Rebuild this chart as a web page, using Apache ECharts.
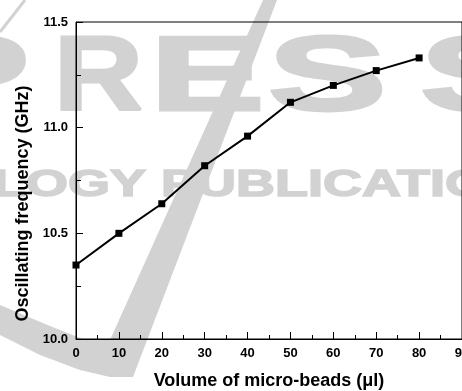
<!DOCTYPE html>
<html>
<head>
<meta charset="utf-8">
<script src="https://cdn.jsdelivr.net/npm/echarts@6/dist/echarts.min.js"></script>
<style>
  html, body { margin: 0; padding: 0; background: #fff; }
  #chart { width: 462px; height: 391px; }
</style>
</head>
<body>
<div id="chart"></div>
<script>
// volume of micro-beads (ul) vs. oscillating frequency (GHz)
const volumes = [0, 10, 20, 30, 40, 50, 60, 70, 80];
const frequencies = [10.35, 10.50, 10.64, 10.82, 10.96, 11.12, 11.20, 11.27, 11.33];
const yTicks = [10.0, 10.5, 11.0, 11.5];

const chart = echarts.init(document.getElementById('chart'));

const axisFont = { color: '#000', fontFamily: 'Liberation Sans', fontWeight: 'bold' };
const wm = '#d2d2d2';
const bigFont = 'bold 106px "Liberation Sans"';

// one watermark letter, stretched sideways
const letter = (ch, x, s) => ({
  type: 'text', z: -9, silent: true, x: x, y: 28, scaleX: s,
  style: { text: ch, fill: wm, stroke: wm, lineWidth: 3, font: bigFont, verticalAlign: 'top' },
});

chart.setOption({
  backgroundColor: '#fff',
  animation: false,
  // faint publisher watermark behind the plot
  graphic: [
    {
      type: 'polygon', z: -10, silent: true,
      shape: {
        points: [[0, 335], [40, 355], [80, 370], [110, 377], [133, 377], [277, 0], [263, 0],
                 [110, 340], [85, 340], [50, 326], [0, 305]],
      },
      style: { fill: wm },
    },
    {
      type: 'line', z: -10, silent: true,
      shape: { x1: 0, y1: 32, x2: 25, y2: 0 },
      style: { stroke: wm, lineWidth: 3 },
    },
    letter('P', -77, 1.5),
    letter('R', 54, 1.16),
    letter('E', 150, 1.62),
    letter('S', 268, 1.68),
    letter('S', 420, 1.68),
    {
      type: 'text', z: -9, silent: true, x: -7, y: 168, scaleX: 1.5,
      style: {
        text: 'LOGY PUBLICATIO', fill: wm, stroke: wm, lineWidth: 1.5,
        font: 'bold 36px "Liberation Sans"', verticalAlign: 'top',
      },
    },
  ],
  grid: {
    left: 76, top: 22, right: 0, bottom: 52,
    outerBoundsMode: 'none',
    show: true, borderColor: '#000', borderWidth: 1,
  },
  xAxis: {
    type: 'value',
    min: 0, max: 90, interval: 10,
    name: 'Volume of micro-beads (μl)',
    nameLocation: 'middle', nameGap: 33,
    nameTextStyle: { ...axisFont, fontSize: 18 },
    axisLine: { lineStyle: { color: '#000', width: 1 } },
    axisTick: { inside: true, length: 7, lineStyle: { color: '#000' } },
    minorTick: { show: true, splitNumber: 2, length: 4, lineStyle: { color: '#000' } },
    axisLabel: { ...axisFont, fontSize: 13, margin: 8, showMaxLabel: true },
    splitLine: { show: false },
  },
  yAxis: {
    type: 'value',
    min: 10, max: 11.5, interval: 0.5,
    name: 'Oscillating frequency (GHz)',
    nameLocation: 'middle', nameGap: 44,
    nameTextStyle: { ...axisFont, fontSize: 18, padding: [0, 46, 0, 0] },
    axisLine: { lineStyle: { color: '#000', width: 1 } },
    axisTick: { inside: true, length: 7, lineStyle: { color: '#000' } },
    minorTick: { show: true, splitNumber: 2, length: 5, lineStyle: { color: '#000' } },
    axisLabel: {
      ...axisFont, fontSize: 13, margin: 8,
      formatter: (v) => (yTicks.includes(v) ? v.toFixed(1) : ''),
    },
    splitLine: { show: false },
  },
  series: [
    {
      type: 'line',
      data: volumes.map((v, i) => [v, frequencies[i]]),
      symbol: 'rect',
      symbolSize: 7,
      lineStyle: { color: '#000', width: 2 },
      itemStyle: { color: '#000' },
    },
  ],
});
</script>
</body>
</html>
